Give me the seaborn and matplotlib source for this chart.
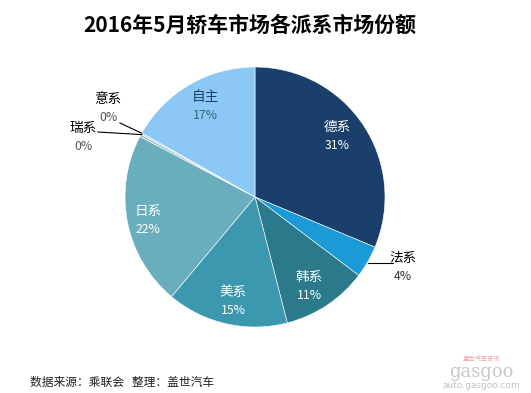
import matplotlib
matplotlib.use("Agg")
import matplotlib.pyplot as plt
import seaborn as sns

categories = ["德系", "法系", "韩系", "美系", "日系", "瑞系", "意系", "自主"]
shares = [31.3, 4.0, 10.7, 15.1, 21.6, 0.3, 0.2, 16.8]
pct_labels = ["31%", "4%", "11%", "15%", "22%", "0%", "0%", "17%"]

colors = ["#1B3F6B", "#1A9AD6", "#2B7A8C", "#3C98AE", "#6AAEBD", "#9DBFC8", "#B5D3E0", "#8CC8F5"]
name_colors = ["white", "black", "white", "white", "white", "black", "black", "#1B3F6B"]
pct_colors = ["white", "#333333", "white", "white", "white", "#555555", "#555555", "#2B6B78"]
# label centres in pie units (radius = 1)
label_pos = [(0.63, 0.465), (1.14, -0.54), (0.415, -0.685), (-0.17, -0.80),
             (-0.82, -0.18), (-1.32, 0.46), (-1.13, 0.68), (-0.385, 0.70)]
leaders = {1: [(0.87, -0.51), (1.06, -0.51)],
           5: [(-1.21, 0.50), (-0.87, 0.48)],
           6: [(-1.04, 0.57), (-0.87, 0.49)]}

sns.set_theme(style="white")
plt.rcParams["font.family"] = ["Noto Sans CJK SC", "DejaVu Sans"]

W, H = 531, 393
fig = plt.figure(figsize=(W / 100, H / 100), dpi=100)
cx, cy, R = 255, 197, 130
ax = fig.add_axes([(cx - R) / W, (H - cy - R) / H, 2 * R / W, 2 * R / H])

ax.pie(shares, colors=colors, startangle=90, counterclock=False,
       wedgeprops=dict(edgecolor="white", linewidth=0.4))
ax.set_xlim(-1, 1)
ax.set_ylim(-1, 1)
ax.set_aspect("equal")
ax.axis("off")

for i, (name, pct) in enumerate(zip(categories, pct_labels)):
    x, y = label_pos[i]
    ax.text(x, y + 0.072, name, ha="center", va="center", fontsize=9.8,
            color=name_colors[i], clip_on=False)
    ax.text(x, y - 0.072, pct, ha="center", va="center", fontsize=8.8,
            color=pct_colors[i], clip_on=False)
for i, pts in leaders.items():
    xs, ys = zip(*pts)
    ax.plot(xs, ys, color="black", lw=0.8, clip_on=False)

fig.text(250 / W, 1 - 25 / H, "2016年5月轿车市场各派系市场份额", ha="center", va="center",
         fontsize=15, fontweight="bold", color="black")
fig.text(30 / W, 1 - 382 / H, "数据来源：乘联会   整理：盖世汽车", ha="left", va="center",
         fontsize=8.5, style="italic", color="#222222")
fig.text(481 / W, 1 - 360 / H, "盖世汽车资讯", ha="center", va="center",
         fontsize=4.5, color="#E8A0A0")
fig.text(481 / W, 1 - 372 / H, "gasgoo", ha="center", va="center",
         fontsize=13, color="#C8C8C8", family="DejaVu Serif")
fig.text(481 / W, 1 - 386 / H, "auto.gasgoo.com", ha="center", va="center",
         fontsize=6.5, color="#C0C0C0", family="DejaVu Sans")

fig.savefig("out.png", dpi=100)
